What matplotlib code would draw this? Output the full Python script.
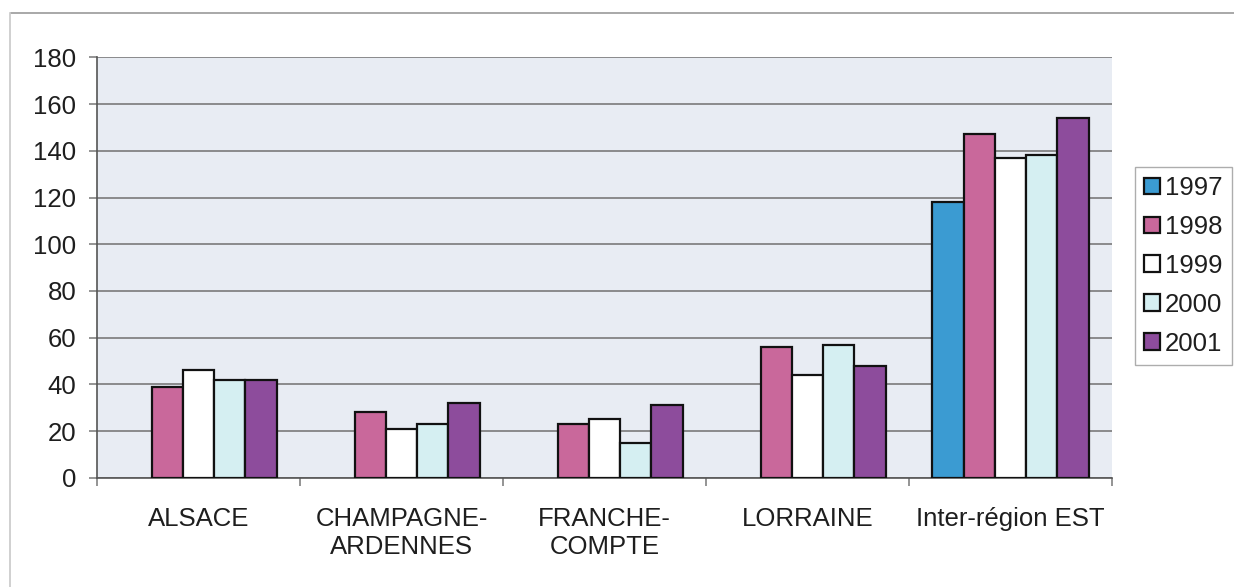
import numpy as np
import matplotlib
matplotlib.use("Agg")
import matplotlib.pyplot as plt
from matplotlib.lines import Line2D

plt.rcParams['font.family'] = ['Liberation Sans', 'DejaVu Sans']

regions = ["ALSACE", "CHAMPAGNE-\nARDENNES", "FRANCHE-\nCOMPTE", "LORRAINE", "Inter-région EST"]
years = ["1997", "1998", "1999", "2000", "2001"]
nan = np.nan
v1997 = [nan, nan, nan, nan, 118]
v1998 = [39, 28, 23, 56, 147]
v1999 = [46, 21, 25, 44, 137]
v2000 = [42, 23, 15, 57, 138]
v2001 = [42, 32, 31, 48, 154]
series = [v1997, v1998, v1999, v2000, v2001]
colors = ["#3B9BD2", "#C9689B", "#FFFFFF", "#D5EFF2", "#8D4C9C"]

fig = plt.figure(figsize=(12.34, 5.87), dpi=100)
fig.patch.set_facecolor("white")
ax = fig.add_axes([0.0786, 0.1862, 0.9011 - 0.0786, 0.9022 - 0.1862])
ax.set_facecolor("#E8ECF3")

x = np.arange(len(regions))
w = 1 / 6.5
handles = []
for i, (vals, c) in enumerate(zip(series, colors)):
    offs = (i - 2) * w
    bars = ax.bar(x + offs, vals, width=w, color=c, edgecolor="#111111",
                  linewidth=1.6, zorder=3, label=years[i])
    handles.append(bars)

ax.set_xlim(-0.5, len(regions) - 0.5)
ax.set_ylim(0, 180)
ax.set_yticks(np.arange(0, 181, 20))
ax.yaxis.grid(True, color="#707070", linewidth=1.1, zorder=1)
ax.set_axisbelow(True)

ax.set_xticks(x)
ax.set_xticklabels(regions, fontsize=18.5, color="#1E1E1E", linespacing=1.2)
ax.tick_params(axis="x", length=0, pad=21)
ax.set_xticks(np.arange(-0.5, len(regions) + 0.5, 1), minor=True)
ax.tick_params(axis="x", which="minor", length=6, color="#777777", width=1.1)
ax.tick_params(axis="y", length=6, color="#777777", width=1.1, pad=9,
               labelsize=18.5, labelcolor="#1E1E1E")

for side in ["top", "right"]:
    ax.spines[side].set_visible(False)
ax.spines["left"].set_color("#555555")
ax.spines["left"].set_linewidth(1.2)
ax.spines["bottom"].set_color("#555555")
ax.spines["bottom"].set_linewidth(1.2)

leg = fig.legend(handles=handles, labels=years, loc="upper left",
                 bbox_to_anchor=(0.9198, 0.7155), fontsize=18.5,
                 frameon=True, fancybox=False, edgecolor="#999999",
                 handlelength=0.62, handleheight=0.62, handletextpad=0.2,
                 labelspacing=0.58, borderpad=0.35, borderaxespad=0,
                 labelcolor="#1E1E1E")
leg.get_frame().set_linewidth(1.0)

# outer chart frame
fig.add_artist(Line2D([11 / 1234, 1.0], [1 - 13 / 587, 1 - 13 / 587],
                      transform=fig.transFigure, color="#9A9A9A", linewidth=1.2))
fig.add_artist(Line2D([10 / 1234, 10 / 1234], [0.0, 1 - 13 / 587],
                      transform=fig.transFigure, color="#C8C8C8", linewidth=1.2))

fig.savefig("out.png", dpi=100)
